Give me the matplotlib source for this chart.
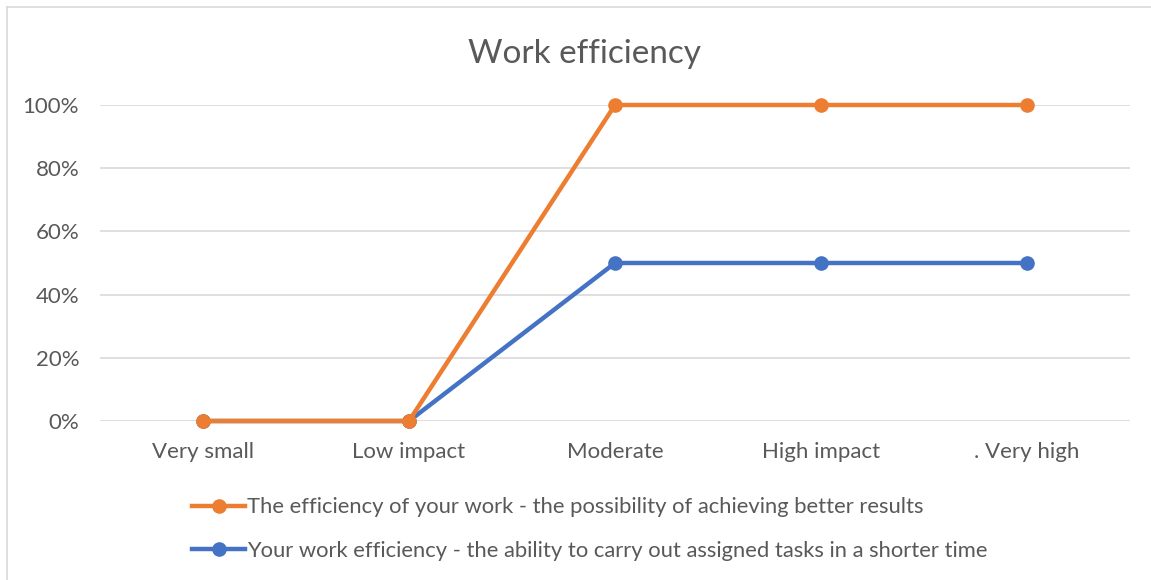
import matplotlib
matplotlib.use("Agg")
import matplotlib.pyplot as plt
from matplotlib.lines import Line2D
from matplotlib.ticker import PercentFormatter

categories = ["Very small", "Low impact", "Moderate", "High impact", ". Very high"]
better_results = [0.0, 0.0, 1.0, 1.0, 1.0]
shorter_time = [0.0, 0.0, 0.5, 0.5, 0.5]
label_better = "The efficiency of your work - the possibility of achieving better results"
label_shorter = "Your work efficiency - the ability to carry out assigned tasks in a shorter time"
yticks = [0, 0.2, 0.4, 0.6, 0.8, 1.0]

plt.rcParams['font.family'] = ['Lato', 'DejaVu Sans']
TXT = '#595959'
ORANGE = '#ED7D31'
BLUE = '#4472C4'

W, H = 1151, 580
fig = plt.figure(figsize=(W/100, H/100), dpi=100)
ax = fig.add_axes([100/W, 159/H, 1030/W, 316/H])

x = list(range(len(categories)))
ax.plot(x, shorter_time, color=BLUE, lw=3.2, marker='o', ms=9.5, clip_on=False, zorder=3,
        label=label_shorter)
ax.plot(x, better_results, color=ORANGE, lw=3.2, marker='o', ms=9.5, clip_on=False, zorder=4,
        label=label_better)

ax.set_xlim(-0.5, len(categories) - 0.5)
ax.set_ylim(0, 1.0)
ax.set_yticks(yticks)
ax.yaxis.set_major_formatter(PercentFormatter(1.0, decimals=0))
ax.set_xticks(x)
ax.set_xticklabels(categories)
ax.grid(axis='y', color='#D9D9D9', lw=1.2)
ax.set_axisbelow(True)
for s in ax.spines.values():
    s.set_visible(False)
ax.tick_params(axis='both', length=0, labelsize=16, labelcolor=TXT)
ax.tick_params(axis='x', pad=15)
ax.tick_params(axis='y', pad=15)

fig.text(585/W, 1 - 54/H, "Work efficiency", ha='center', va='center', fontsize=24, color=TXT)

handles = [Line2D([], [], color=ORANGE, lw=3.2, marker='o', ms=9.5),
           Line2D([], [], color=BLUE, lw=3.2, marker='o', ms=9.5)]
leg = fig.legend(handles, [label_better, label_shorter], loc='center',
                 bbox_to_anchor=(590/W, 1 - 529/H), frameon=False, fontsize=15.8,
                 handlelength=2.4, handletextpad=0.1, labelspacing=1.05,
                 labelcolor=TXT)

# chart border (top and left visible)
fig.add_artist(Line2D([7/W, 7/W], [0, 1 - 7/H], transform=fig.transFigure, color='#D9D9D9', lw=1.2))
fig.add_artist(Line2D([7/W, 1], [1 - 7/H, 1 - 7/H], transform=fig.transFigure, color='#D9D9D9', lw=1.2))

fig.savefig("out.png", dpi=100)
